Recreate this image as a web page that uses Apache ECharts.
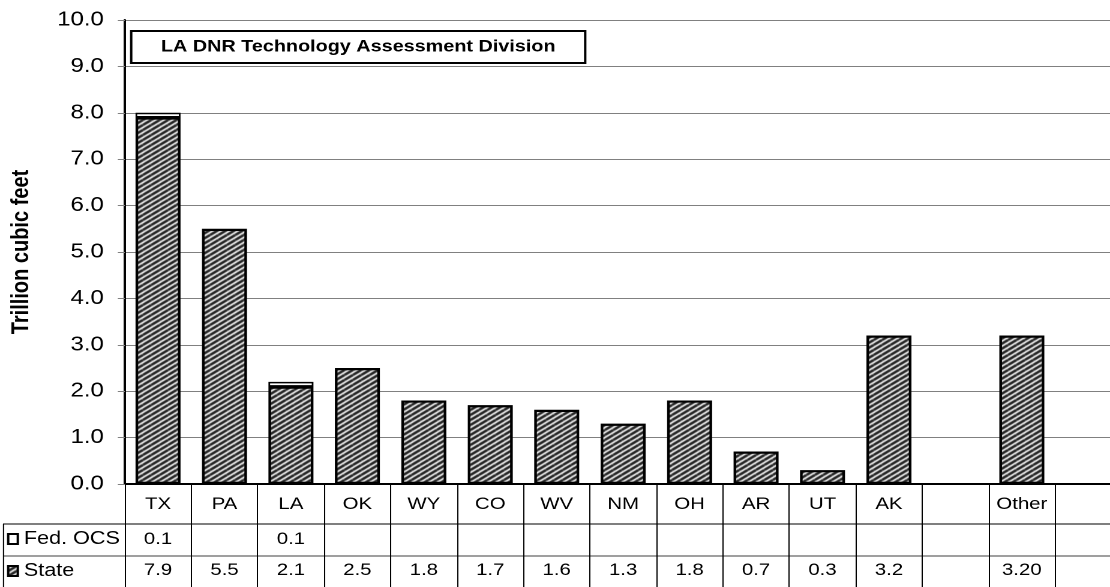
<!DOCTYPE html>
<html>
<head>
<meta charset="utf-8">
<script src="https://cdn.jsdelivr.net/npm/echarts@6/dist/echarts.min.js"></script>
<style>
html,body{margin:0;padding:0;background:#fff;overflow:hidden;width:1110px;height:587px;}
#chart{width:960px;height:587px;transform:scaleX(1.2);transform-origin:0 0;}
</style>
</head>
<body>
<div id="chart"></div>
<script>
// ---- data ----
const categories = ['TX','PA','LA','OK','WY','CO','WV','NM','OH','AR','UT','AK','',  'Other',' '];
const stateValues = [7.9,5.5,2.1,2.5,1.8,1.7,1.6,1.3,1.8,0.7,0.3,3.2,null,3.2,null];
const fedValues   = [0.1,null,0.1,null,null,null,null,null,null,null,null,null,null,null,null];
const stateText   = ['7.9','5.5','2.1','2.5','1.8','1.7','1.6','1.3','1.8','0.7','0.3','3.2','', '3.20',' '];
const fedText     = ['0.1','', '0.1',' ','  ','   ','    ','     ','      ','       ','        ','         ','          ','           ','            '];
const yTicks = [0,1,2,3,4,5,6,7,8,9,10];
const seriesNames = ['Fed. OCS','State'];
const chartTitle = 'LA DNR Technology Assessment Division';
const yName = 'Trillion cubic feet';

// ---- horizontal stretch of the reference picture ----
const SX = 1.2;
const px = v => v / SX;   // real horizontal pixels -> chart pixels

// ---- hatch pattern ----
function makeHatch() {
  const w = 7, h = 5;
  const c = document.createElement('canvas');
  c.width = w; c.height = h;
  const ctx = c.getContext('2d');
  ctx.fillStyle = '#ffffff';
  ctx.fillRect(0, 0, w, h);
  ctx.strokeStyle = '#1e1e1e';
  ctx.lineWidth = 2.5;
  for (let dx = -w; dx <= w; dx += w) {
    for (let dy = -h; dy <= h; dy += h) {
      ctx.beginPath();
      ctx.moveTo(0 + dx, h + dy);
      ctx.lineTo(w + dx, 0 + dy);
      ctx.stroke();
    }
  }
  return c;
}
const hatch = { image: makeHatch(), repeat: 'repeat' };

// ---- layout ----
const G = { left: px(124), top: 20, width: px(997.5), height: 464 };
const axisY = G.top + G.height;   // 484
const row1 = 524, row2 = 556, bottomY = 587;

const chart = echarts.init(document.getElementById('chart'), null, { renderer: 'canvas', devicePixelRatio: 2 });

const font = 'Liberation Sans, Arial, sans-serif';

const option = {
  backgroundColor: '#ffffff',
  animation: false,
  textStyle: { fontFamily: font, color: '#000' },
  grid: { left: G.left, top: G.top, width: G.width, height: G.height, containLabel: false },
  legend: [
    {
      data: [seriesNames[0]], left: px(7), top: row1 + 6, orient: 'vertical',
      selectedMode: false, icon: 'rect', itemWidth: 8, itemHeight: 10, itemGap: 4,
      textStyle: { fontSize: 18, color: '#000', fontFamily: font }, padding: 0
    },
    {
      data: [seriesNames[1]], left: px(7), top: row2 + 6, orient: 'vertical',
      selectedMode: false, icon: 'rect', itemWidth: 8, itemHeight: 10, itemGap: 4,
      textStyle: { fontSize: 18, color: '#000', fontFamily: font }, padding: 0
    }
  ],
  xAxis: [
    {
      type: 'category', data: categories, position: 'bottom',
      axisLine: { show: true, lineStyle: { color: '#000', width: 2 } },
      axisTick: { show: true, interval: 0, length: bottomY - axisY, lineStyle: { color: '#000', width: 1 } },
      axisLabel: { interval: 0, fontSize: 17, color: '#000', margin: 12, fontFamily: font },
      splitLine: { show: false }
    },
    {
      type: 'category', data: fedText, position: 'bottom', offset: 35,
      axisLine: { show: false }, axisTick: { show: false },
      axisLabel: { interval: 0, fontSize: 17, color: '#000', margin: 12, fontFamily: font }
    },
    {
      type: 'category', data: stateText, position: 'bottom', offset: 66,
      axisLine: { show: false }, axisTick: { show: false },
      axisLabel: { interval: 0, fontSize: 17, color: '#000', margin: 12, fontFamily: font }
    }
  ],
  yAxis: {
    type: 'value', min: yTicks[0], max: yTicks[yTicks.length - 1], interval: 1,
    name: yName, nameLocation: 'middle', nameGap: 76, nameRotate: 90,
    nameTextStyle: { fontSize: 20, fontWeight: 'bold', color: '#000', fontFamily: font },
    axisLine: { show: true, lineStyle: { color: '#000', width: 2 } },
    axisTick: { show: true, length: px(7), lineStyle: { color: '#808080', width: 1 } },
    axisLabel: { fontSize: 20, color: '#000', margin: px(21), fontFamily: font,
                 formatter: v => v.toFixed(1) },
    splitLine: { show: true, lineStyle: { color: '#808080', width: 1 } }
  },
  series: [
    {
      name: seriesNames[1], type: 'bar', stack: 'total', xAxisIndex: 0,
      data: stateValues, barWidth: px(45),
      itemStyle: { color: hatch, borderColor: '#000', borderWidth: 2.2 }
    },
    {
      name: seriesNames[0], type: 'bar', stack: 'total', xAxisIndex: 0,
      data: fedValues, barWidth: px(45),
      itemStyle: { color: '#ffffff', borderColor: '#000', borderWidth: 1.4 }
    }
  ],
  graphic: [
    { type: 'line', shape: { x1: px(3), y1: row1, x2: px(1110), y2: row1 }, style: { stroke: '#000', lineWidth: 1 }, silent: true },
    { type: 'line', shape: { x1: px(3), y1: row2, x2: px(1110), y2: row2 }, style: { stroke: '#808080', lineWidth: 1.5 }, silent: true },
    { type: 'line', shape: { x1: px(3.5), y1: row1, x2: px(3.5), y2: bottomY }, style: { stroke: '#000', lineWidth: 1 }, silent: true },
    {
      type: 'group', left: px(130), top: 30,
      children: [
        { type: 'rect', shape: { x: 0, y: 0, width: px(454), height: 32 }, style: { fill: '#fff', stroke: '#000', lineWidth: 2 } },
        { type: 'text', x: px(454) / 2, y: 16, style: { text: chartTitle, fontSize: 16.5, fontWeight: 'bold', fill: '#000', fontFamily: font, align: 'center', verticalAlign: 'middle' } }
      ]
    }
  ]
};
chart.setOption(option);
</script>
</body>
</html>
